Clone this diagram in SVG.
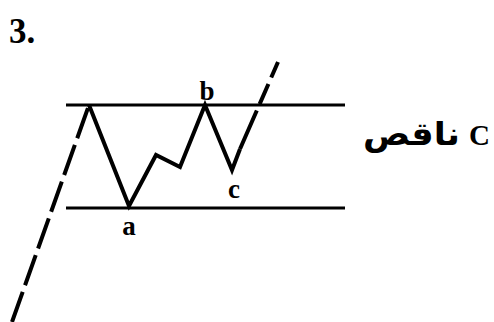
<svg xmlns="http://www.w3.org/2000/svg" width="494" height="322" viewBox="0 0 494 322">
<style>
.ln{stroke:#000;stroke-width:3;fill:none}
.zz{stroke:#000;stroke-width:4;fill:none;stroke-linejoin:miter}
.ds{stroke:#000;stroke-width:4;fill:none;stroke-dasharray:32 7}
.lb{font-family:"Liberation Serif",serif;font-weight:bold;font-size:27px;fill:#000}
</style>
<rect width="494" height="322" fill="#fff"/>
<text x="9" y="43" class="lb" style="font-size:35px">3.</text>
<g id="connectors">
<line class="ln" x1="66" y1="105" x2="345" y2="105"/>
<line class="ln" x1="66" y1="208" x2="345" y2="208"/>
<path class="ds" d="M12 322 L89 105"/>
<path class="zz" d="M89 105 L129 206 L156 155 L180 167 L205 105 L232 170 L240 149"/>
<path class="ds" d="M240 149 L278 62" style="stroke-dasharray:42 7 22 7"/>
</g>
<g id="label-a"><text x="129" y="235" text-anchor="middle" class="lb">a</text></g>
<g id="label-b"><text x="207" y="100" text-anchor="middle" class="lb">b</text></g>
<g id="label-c"><text x="234" y="198" text-anchor="middle" class="lb">c</text></g>
<g id="label-C">
<text x="469" y="145" class="lb" style="font-size:29px">C</text>
<text x="363" y="145" style="font-family:'DejaVu Sans',sans-serif;font-weight:bold;font-size:32px" textLength="97" lengthAdjust="spacingAndGlyphs">ناقص</text>
</g>
</svg>
